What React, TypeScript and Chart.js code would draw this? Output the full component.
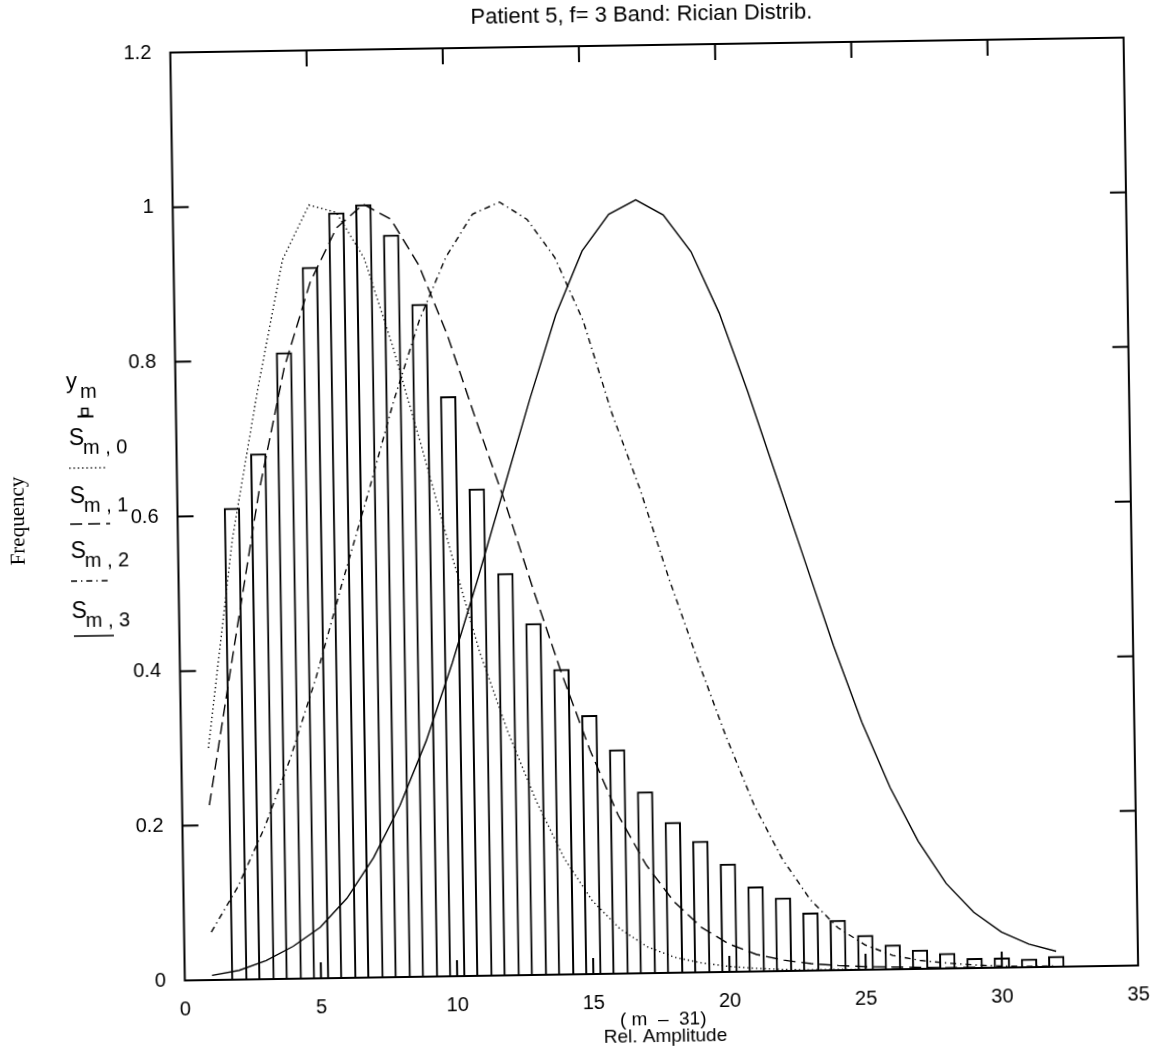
import React, { useEffect, useRef } from 'react';
import { Chart, registerables } from 'chart.js';

Chart.register(...registerables);

// ---- data ----
const barX = [2, 3, 4, 5, 6, 7, 8, 9, 10, 11, 12, 13, 14, 15, 16, 17, 18, 19, 20, 21, 22, 23, 24, 25, 26, 27, 28, 29, 30, 31, 32];
const barFreq = [0.61, 0.68, 0.81, 0.92, 0.99, 1.0, 0.96, 0.87, 0.75, 0.63, 0.52, 0.455, 0.395, 0.335, 0.29, 0.235, 0.195, 0.17, 0.14, 0.11, 0.095, 0.075, 0.065, 0.045, 0.032, 0.025, 0.02, 0.013, 0.013, 0.011, 0.014];

const curveX = [1, 2, 3, 4, 5, 6, 7, 8, 9, 10, 11, 12, 13, 14, 15, 16, 17, 18, 19, 20, 21, 22, 23, 24, 25, 26, 27, 28, 29, 30, 31, 32];
const sm0 = [0.30, 0.57, 0.76, 0.93, 1.0, 0.99, 0.93, 0.815, 0.685, 0.55, 0.42, 0.315, 0.225, 0.15, 0.095, 0.058, 0.034, 0.02, 0.012, 0.007, 0.004, 0.002, 0.001, 0.001, 0.0005, 0, 0, 0, 0, 0, 0, 0];
const sm1 = [0.226, 0.43, 0.63, 0.79, 0.90, 0.97, 1.0, 0.98, 0.92, 0.83, 0.72, 0.615, 0.5, 0.39, 0.29, 0.205, 0.14, 0.092, 0.058, 0.036, 0.022, 0.014, 0.009, 0.006, 0.004, 0.003, 0.002, 0.001, 0.001, 0, 0, 0];
const sm2 = [0.062, 0.12, 0.195, 0.285, 0.39, 0.51, 0.625, 0.745, 0.85, 0.93, 0.985, 1.0, 0.977, 0.927, 0.845, 0.725, 0.625, 0.51, 0.405, 0.305, 0.215, 0.145, 0.092, 0.055, 0.032, 0.018, 0.011, 0.007, 0.004, 0.002, 0.001, 0.001];
const sm3 = [0.006, 0.012, 0.024, 0.042, 0.066, 0.103, 0.155, 0.222, 0.305, 0.405, 0.515, 0.63, 0.745, 0.853, 0.935, 0.982, 1.0, 0.98, 0.932, 0.852, 0.75, 0.64, 0.53, 0.42, 0.32, 0.235, 0.165, 0.11, 0.072, 0.046, 0.03, 0.02];

const xRange = [0, 35];
const xStep = 5;
const yRange = [0, 1.2];
const yStep = 0.2;

const titleText = 'Patient 5, f= 3 Band: Rician Distrib.';
const xTitleLines = ['( m  \u2013  31)', 'Rel. Amplitude'];
const yTitleText = 'Frequency';
const legendSubs = ['m , 0', 'm , 1', 'm , 2', 'm , 3'];

// ---- styles ----
const SANS = '"Liberation Sans", Arial, Helvetica, sans-serif';
const SERIF = '"Liberation Serif", "Times New Roman", serif';
const dashDotted = [1.3, 3];
const dashDashed = [12, 6];
const dashDashDot = [6, 4, 1.3, 4];
const dashSolid: number[] = [];
const curveDashes = [dashDotted, dashDashed, dashDashDot, dashSolid];

const W = 1151;
const H = 1055;
const PLOT_LEFT = 177.5;
const PLOT_RIGHT = 1134.5;
const PLOT_TOP = 45;
const PLOT_BOTTOM = 973;
const TICK = 16;

const decorPlugin = {
  id: 'decor',
  afterDatasetsDraw(chart: any) {
    const ctx = chart.ctx as CanvasRenderingContext2D;
    const a = chart.chartArea;
    const xs = chart.scales.x;
    const ys = chart.scales.y;
    ctx.save();
    ctx.strokeStyle = '#000';
    ctx.lineWidth = 2;
    ctx.setLineDash([]);
    ctx.strokeRect(a.left, a.top, a.right - a.left, a.bottom - a.top);
    ctx.beginPath();
    xs.ticks.forEach((t: any) => {
      if (t.value <= xs.min || t.value >= xs.max) return;
      const px = xs.getPixelForValue(t.value);
      ctx.moveTo(px, a.bottom);
      ctx.lineTo(px, a.bottom - TICK);
      ctx.moveTo(px, a.top);
      ctx.lineTo(px, a.top + TICK);
    });
    ys.ticks.forEach((t: any) => {
      if (t.value <= ys.min || t.value >= ys.max) return;
      const py = ys.getPixelForValue(t.value);
      ctx.moveTo(a.left, py);
      ctx.lineTo(a.left + TICK, py);
      ctx.moveTo(a.right, py);
      ctx.lineTo(a.right - TICK, py);
    });
    ctx.stroke();
    ctx.restore();
  },
  afterDraw(chart: any) {
    const ctx = chart.ctx as CanvasRenderingContext2D;
    const a = chart.chartArea;
    const cx = (a.left + a.right) / 2;
    ctx.save();
    ctx.fillStyle = '#000';
    ctx.strokeStyle = '#000';
    ctx.textBaseline = 'alphabetic';

    // title
    ctx.font = `22px ${SANS}`;
    ctx.textAlign = 'center';
    ctx.fillText(titleText, cx - 5, 21);

    // x axis title
    ctx.font = `19px ${SANS}`;
    ctx.fillText(xTitleLines[0], cx + 1, 1025);
    ctx.fillText(xTitleLines[1], cx + 3, 1042);

    // y axis title
    ctx.save();
    ctx.translate(24, 511);
    ctx.rotate(-Math.PI / 2);
    ctx.font = `21px ${SERIF}`;
    ctx.textAlign = 'center';
    ctx.fillText(yTitleText, 0, 0);
    ctx.restore();

    // legend
    ctx.textAlign = 'left';
    ctx.font = `22px ${SANS}`;
    ctx.fillText('y', 68, 379);
    ctx.font = `20px ${SANS}`;
    ctx.fillText('m', 82, 389);
    // bar symbol
    ctx.lineWidth = 1.6;
    ctx.setLineDash([]);
    ctx.strokeRect(83.5, 399.5, 6, 7);
    ctx.lineWidth = 2;
    ctx.beginPath();
    ctx.moveTo(79, 407.5);
    ctx.lineTo(95, 407.5);
    ctx.stroke();

    const sBase = [436, 494, 549, 609];
    const lineY = [459, 515, 572, 627];
    const lineX = [[70, 107], [70, 110], [70, 107], [72, 112]];
    for (let i = 0; i < 4; i++) {
      ctx.font = `23px ${SANS}`;
      ctx.fillText('S', 70, sBase[i]);
      ctx.font = `20px ${SANS}`;
      ctx.fillText(legendSubs[i], 84, sBase[i] + 9);
      ctx.lineWidth = 1.4;
      ctx.setLineDash(curveDashes[i]);
      ctx.beginPath();
      ctx.moveTo(lineX[i][0], lineY[i]);
      ctx.lineTo(lineX[i][1], lineY[i]);
      ctx.stroke();
    }
    ctx.restore();
  },
};

function curveDataset(label: string, values: number[], dash: number[]) {
  return {
    type: 'line' as const,
    label,
    data: curveX.map((x, i) => ({ x, y: values[i] })),
    borderColor: '#000',
    borderWidth: 1.4,
    borderDash: dash,
    pointRadius: 0,
    fill: false,
    tension: 0,
    order: 1,
  };
}

const fmtTick = (v: any) => String(Number(Number(v).toFixed(2)));

export default function App() {
  const ref = useRef<HTMLCanvasElement>(null);

  useEffect(() => {
    if (!ref.current) return;
    const chart = new Chart(ref.current, {
      type: 'bar',
      data: {
        datasets: [
          {
            type: 'bar',
            label: 'y_m',
            data: barX.map((x, i) => ({ x, y: barFreq[i] })),
            backgroundColor: 'rgba(255,255,255,0)',
            borderColor: '#000',
            borderWidth: 2,
            borderSkipped: 'start',
            barPercentage: 0.6,
            categoryPercentage: 1,
            order: 2,
          } as any,
          curveDataset('S_m,0', sm0, dashDotted),
          curveDataset('S_m,1', sm1, dashDashed),
          curveDataset('S_m,2', sm2, dashDashDot),
          curveDataset('S_m,3', sm3, dashSolid),
        ],
      },
      options: {
        responsive: false,
        animation: false,
        events: [],
        layout: {
          padding: { left: 0, right: W - PLOT_RIGHT, top: PLOT_TOP, bottom: 0 },
        },
        plugins: {
          legend: { display: false },
          tooltip: { enabled: false },
          title: { display: false },
        },
        scales: {
          x: {
            type: 'linear',
            min: xRange[0],
            max: xRange[1],
            offset: false,
            grid: { display: false, offset: false },
            border: { display: false },
            ticks: {
              stepSize: xStep,
              padding: 9,
              color: '#000',
              font: { size: 20, family: SANS },
              maxRotation: 0,
              autoSkip: false,
              callback: fmtTick,
            },
            afterFit: (s: any) => {
              s.height = H - PLOT_BOTTOM;
            },
          },
          y: {
            type: 'linear',
            min: yRange[0],
            max: yRange[1],
            grid: { display: false },
            border: { display: false },
            ticks: {
              stepSize: yStep,
              padding: 11,
              color: '#000',
              font: { size: 20, family: SANS },
              callback: fmtTick,
            },
            afterFit: (s: any) => {
              s.width = PLOT_LEFT;
            },
          },
        },
      },
      plugins: [decorPlugin],
    } as any);
    return () => chart.destroy();
  }, []);

  return (
    <div
      style={{
        position: 'fixed',
        left: 0,
        top: 0,
        width: W,
        height: H,
        background: '#fff',
        transform: 'rotate(-0.9deg)',
        transformOrigin: '656px 509px',
      }}
    >
      <canvas ref={ref} width={W} height={H} style={{ display: 'block', width: W, height: H }} />
    </div>
  );
}
